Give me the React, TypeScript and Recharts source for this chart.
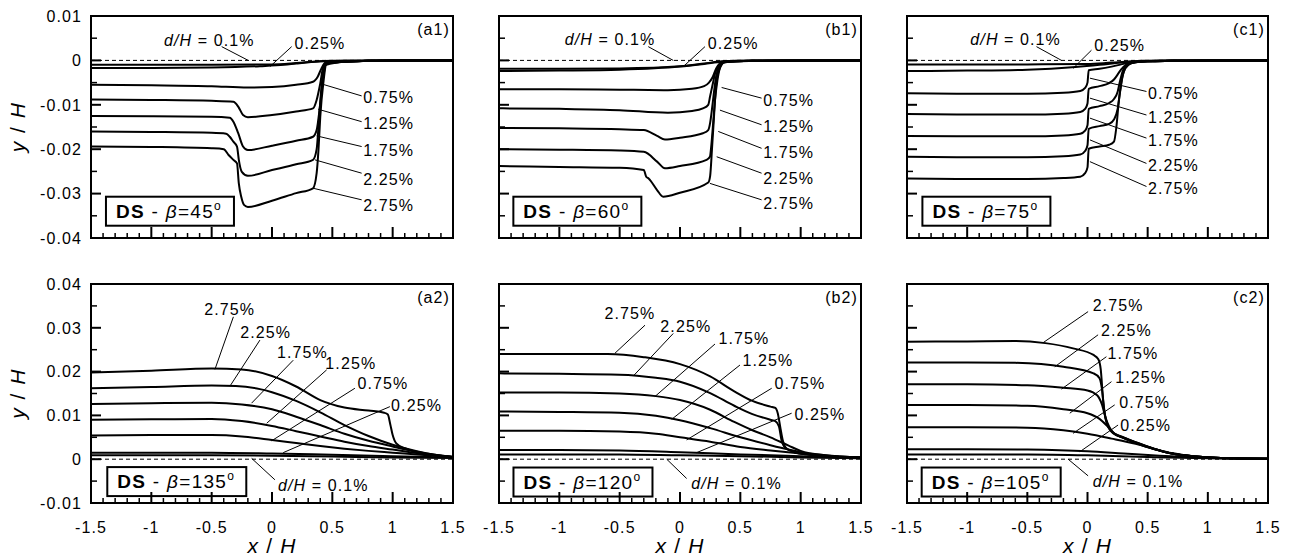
import React from 'react';
import { LineChart, Line, XAxis, YAxis, ReferenceLine, ReferenceDot, ReferenceArea } from 'recharts';

const FONT = '"Liberation Sans", Arial, Helvetica, sans-serif';
const PAGE_W = 1294;
const PAGE_H = 558;

type Pt = [number, number];

// ---------- ticks ----------
const X_TICKS = [-1.5, -1.4, -1.3, -1.2, -1.1, -1, -0.9, -0.8, -0.7, -0.6, -0.5, -0.4, -0.3, -0.2, -0.1, 0, 0.1, 0.2, 0.3, 0.4, 0.5, 0.6, 0.7, 0.8, 0.9, 1, 1.1, 1.2, 1.3, 1.4, 1.5];
const X_LABELED = [-1.5, -1, -0.5, 0, 0.5, 1, 1.5];
const Y_TICKS_TOP = [0.01, 0.005, 0, -0.005, -0.01, -0.015, -0.02, -0.025, -0.03, -0.035, -0.04];
const Y_LABELED_TOP = [0.01, 0, -0.01, -0.02, -0.03, -0.04];
const Y_TICKS_BOTTOM = [0.04, 0.035, 0.03, 0.025, 0.02, 0.015, 0.01, 0.005, 0, -0.005, -0.01];
const Y_LABELED_BOTTOM = [0.04, 0.03, 0.02, 0.01, 0, -0.01];

// ---------- (a1) DS beta=45 ----------
const A1_D010: Pt[] = [[-1.5, -0.001], [-1, -0.001], [-0.5, -0.001], [0, -0.0009], [0.2, -0.0006], [0.4, -0.0002], [0.6, -0.0001], [1, 0], [1.5, 0]];
const A1_D025: Pt[] = [[-1.5, -0.0017], [-1, -0.0017], [-0.5, -0.0016], [-0.1, -0.0013], [0.1, -0.001], [0.2, -0.0007], [0.35, -0.0003], [0.5, -0.0001], [1, 0], [1.5, 0]];
const A1_D075: Pt[] = [[-1.5, -0.0055], [-1, -0.0056], [-0.5, -0.0058], [-0.2, -0.0061], [0, -0.006], [0.2, -0.0055], [0.34, -0.0048], [0.38, -0.0036], [0.41, -0.0018], [0.44, -0.0006], [0.6, -0.0003], [0.8, -0.0001], [1, 0], [1.5, 0]];
const A1_D125: Pt[] = [[-1.5, -0.0088], [-1, -0.0089], [-0.5, -0.0091], [-0.32, -0.0093], [-0.28, -0.0104], [-0.24, -0.0123], [-0.2, -0.0128], [0, -0.0123], [0.2, -0.0115], [0.34, -0.0108], [0.37, -0.0089], [0.4, -0.0052], [0.425, -0.0014], [0.45, -0.0005], [0.6, -0.0003], [0.8, -0.0001], [1, 0], [1.5, 0]];
const A1_D175: Pt[] = [[-1.5, -0.0125], [-1, -0.0126], [-0.5, -0.0127], [-0.35, -0.0129], [-0.32, -0.0138], [-0.28, -0.0164], [-0.24, -0.0194], [-0.2, -0.0202], [0, -0.0192], [0.2, -0.0181], [0.34, -0.0172], [0.37, -0.0157], [0.397, -0.0104], [0.425, -0.0037], [0.45, -0.0007], [0.6, -0.0003], [0.8, -0.0001], [1, 0], [1.5, 0]];
const A1_D225: Pt[] = [[-1.5, -0.016], [-1, -0.0161], [-0.5, -0.0163], [-0.38, -0.0165], [-0.35, -0.0172], [-0.32, -0.0183], [-0.29, -0.0194], [-0.275, -0.0224], [-0.25, -0.0251], [-0.2, -0.026], [0, -0.0247], [0.2, -0.0234], [0.34, -0.0224], [0.37, -0.02], [0.39, -0.013], [0.41, -0.006], [0.44, -0.0012], [0.47, -0.0005], [0.6, -0.0003], [0.8, -0.0001], [1, 0], [1.5, 0]];
const A1_D275: Pt[] = [[-1.5, -0.0194], [-1, -0.0195], [-0.5, -0.0198], [-0.4, -0.02], [-0.36, -0.0213], [-0.32, -0.0224], [-0.29, -0.0232], [-0.275, -0.0277], [-0.255, -0.0307], [-0.23, -0.0326], [-0.2, -0.033], [0, -0.0316], [0.2, -0.0299], [0.34, -0.0288], [0.37, -0.0254], [0.385, -0.0202], [0.4, -0.0127], [0.425, -0.0052], [0.45, -0.001], [0.6, -0.0003], [0.8, -0.0001], [1, 0], [1.5, 0]];

// ---------- (b1) DS beta=60 ----------
const B1_D010: Pt[] = [[-1.5, -0.0019], [-1, -0.0019], [-0.5, -0.0018], [0, -0.0013], [0.2, -0.0007], [0.35, -0.0002], [0.5, -0.0001], [1, 0], [1.5, 0]];
const B1_D025: Pt[] = [[-1.5, -0.0024], [-1, -0.0023], [-0.5, -0.0021], [0, -0.0014], [0.2, -0.0008], [0.35, -0.0003], [0.5, -0.0001], [1, 0], [1.5, 0]];
const B1_D075: Pt[] = [[-1.5, -0.0065], [-1, -0.0065], [-0.5, -0.0066], [-0.1, -0.0067], [0.1, -0.0064], [0.2, -0.0058], [0.24, -0.005], [0.27, -0.0038], [0.3, -0.0018], [0.33, -0.0007], [0.36, -0.0003], [0.6, -0.0001], [1, 0], [1.5, 0]];
const B1_D125: Pt[] = [[-1.5, -0.0108], [-1, -0.0109], [-0.5, -0.0112], [-0.1, -0.0118], [0.1, -0.0114], [0.19, -0.0108], [0.234, -0.01], [0.25, -0.008], [0.27, -0.0055], [0.29, -0.003], [0.32, -0.0012], [0.35, -0.0004], [0.6, -0.0001], [1, 0], [1.5, 0]];
const B1_D175: Pt[] = [[-1.5, -0.0152], [-1, -0.0153], [-0.5, -0.0155], [-0.3, -0.0157], [-0.19, -0.017], [-0.125, -0.0178], [0, -0.0174], [0.19, -0.0164], [0.234, -0.0157], [0.25, -0.014], [0.265, -0.011], [0.28, -0.0075], [0.3, -0.0035], [0.33, -0.0012], [0.36, -0.0004], [0.6, -0.0001], [1, 0], [1.5, 0]];
const B1_D225: Pt[] = [[-1.5, -0.02], [-1, -0.0201], [-0.5, -0.0203], [-0.3, -0.0206], [-0.19, -0.0228], [-0.125, -0.0243], [0, -0.0238], [0.22, -0.0224], [0.248, -0.0217], [0.26, -0.019], [0.275, -0.014], [0.29, -0.009], [0.31, -0.0045], [0.33, -0.0018], [0.36, -0.0005], [0.6, -0.0001], [1, 0], [1.5, 0]];
const B1_D275: Pt[] = [[-1.5, -0.0238], [-1, -0.024], [-0.5, -0.0242], [-0.3, -0.0247], [-0.28, -0.0262], [-0.26, -0.0266], [-0.19, -0.0292], [-0.14, -0.0307], [0, -0.0298], [0.234, -0.0275], [0.25, -0.026], [0.265, -0.02], [0.28, -0.0135], [0.295, -0.007], [0.31, -0.0035], [0.34, -0.0012], [0.37, -0.0004], [0.6, -0.0001], [1, 0], [1.5, 0]];

// ---------- (c1) DS beta=75 ----------
const C1_D010: Pt[] = [[-1.5, -0.0009], [-1, -0.0009], [-0.5, -0.0009], [0, -0.0008], [0.2, -0.0005], [0.4, -0.0002], [0.6, -0.0001], [1, 0], [1.5, 0]];
const C1_D025: Pt[] = [[-1.5, -0.0024], [-1, -0.0023], [-0.5, -0.0021], [-0.1, -0.0015], [0.1, -0.001], [0.3, -0.0004], [0.45, -0.0001], [0.7, 0], [1.5, 0]];
const C1_D075: Pt[] = [[-1.5, -0.0074], [-1, -0.0075], [-0.5, -0.0075], [-0.2, -0.0073], [-0.06, -0.0069], [-0.02, -0.0062], [0, -0.005], [0.01, -0.0022], [0.1, -0.0019], [0.2, -0.0014], [0.28, -0.0009], [0.35, -0.0005], [0.5, -0.0002], [0.7, -0.0001], [1, 0], [1.5, 0]];
const C1_D125: Pt[] = [[-1.5, -0.0121], [-1, -0.0122], [-0.5, -0.0122], [-0.2, -0.012], [-0.06, -0.0116], [-0.02, -0.0109], [0, -0.0097], [0.01, -0.0064], [0.1, -0.0058], [0.18, -0.0051], [0.22, -0.0043], [0.25, -0.0032], [0.28, -0.002], [0.32, -0.001], [0.38, -0.0004], [0.5, -0.0002], [0.7, -0.0001], [1, 0], [1.5, 0]];
const C1_D175: Pt[] = [[-1.5, -0.017], [-1, -0.0171], [-0.5, -0.0171], [-0.2, -0.0169], [-0.06, -0.0165], [-0.02, -0.0158], [0, -0.0146], [0.01, -0.0109], [0.1, -0.0103], [0.18, -0.0096], [0.22, -0.0087], [0.25, -0.0071], [0.27, -0.0047], [0.29, -0.0026], [0.32, -0.0012], [0.36, -0.0005], [0.5, -0.0002], [0.7, -0.0001], [1, 0], [1.5, 0]];
const C1_D225: Pt[] = [[-1.5, -0.0217], [-1, -0.0218], [-0.5, -0.0218], [-0.2, -0.0216], [-0.06, -0.0212], [-0.02, -0.0204], [0, -0.0191], [0.01, -0.0154], [0.1, -0.0148], [0.18, -0.0143], [0.22, -0.0133], [0.25, -0.011], [0.27, -0.0072], [0.29, -0.0037], [0.31, -0.0019], [0.35, -0.0007], [0.5, -0.0002], [0.7, -0.0001], [1, 0], [1.5, 0]];
const C1_D275: Pt[] = [[-1.5, -0.0266], [-1, -0.0267], [-0.5, -0.0267], [-0.2, -0.0265], [-0.06, -0.0262], [-0.02, -0.0254], [0, -0.0241], [0.01, -0.0199], [0.1, -0.0194], [0.18, -0.019], [0.22, -0.0183], [0.24, -0.015], [0.26, -0.0092], [0.28, -0.0052], [0.3, -0.0027], [0.34, -0.001], [0.4, -0.0004], [0.6, -0.0001], [1, 0], [1.5, 0]];

// ---------- (a2) DS beta=135 ----------
const A2_D010: Pt[] = [[-1.5, 0.0009], [-1, 0.0009], [-0.5, 0.0009], [0, 0.0008], [0.5, 0.0006], [1, 0.0004], [1.5, 0.0003]];
const A2_D025: Pt[] = [[-1.5, 0.0015], [-1, 0.0015], [-0.5, 0.0015], [0, 0.0013], [0.5, 0.001], [1, 0.0007], [1.5, 0.0004]];
const A2_D075: Pt[] = [[-1.5, 0.0054], [-1, 0.0055], [-0.5, 0.0055], [-0.25, 0.0052], [0, 0.0044], [0.2, 0.0037], [0.4, 0.003], [0.6, 0.0024], [0.8, 0.0019], [1, 0.0015], [1.2, 0.0011], [1.5, 0.0005]];
const A2_D125: Pt[] = [[-1.5, 0.009], [-1, 0.0091], [-0.5, 0.0092], [-0.25, 0.0087], [0, 0.0076], [0.2, 0.0064], [0.4, 0.0052], [0.6, 0.004], [0.8, 0.003], [1, 0.0022], [1.2, 0.0014], [1.35, 0.0009], [1.5, 0.0005]];
const A2_D175: Pt[] = [[-1.5, 0.0126], [-1, 0.0128], [-0.5, 0.0129], [-0.25, 0.0125], [0, 0.0114], [0.2, 0.0097], [0.4, 0.0078], [0.6, 0.0058], [0.8, 0.0042], [1, 0.0029], [1.2, 0.0017], [1.35, 0.001], [1.5, 0.0005]];
const A2_D225: Pt[] = [[-1.5, 0.0162], [-1, 0.0165], [-0.5, 0.0168], [-0.3, 0.0167], [-0.1, 0.016], [0, 0.0153], [0.2, 0.0133], [0.4, 0.0107], [0.6, 0.0078], [0.8, 0.0053], [1, 0.0033], [1.2, 0.0018], [1.35, 0.001], [1.5, 0.0005]];
const A2_D275: Pt[] = [[-1.5, 0.0198], [-1, 0.0202], [-0.5, 0.0207], [-0.25, 0.0205], [0, 0.019], [0.2, 0.0166], [0.4, 0.0135], [0.6, 0.0118], [0.8, 0.0111], [0.93, 0.0106], [0.96, 0.0102], [0.98, 0.008], [1, 0.0055], [1.03, 0.0036], [1.1, 0.0025], [1.2, 0.0016], [1.35, 0.0009], [1.5, 0.0005]];

// ---------- (b2) DS beta=120 ----------
const B2_D010: Pt[] = [[-1.5, 0.0011], [-1, 0.0011], [-0.5, 0.0011], [0, 0.0009], [0.5, 0.0007], [1, 0.0004], [1.5, 0.0002]];
const B2_D025: Pt[] = [[-1.5, 0.0021], [-1, 0.0021], [-0.5, 0.002], [0, 0.0016], [0.5, 0.0011], [1, 0.0007], [1.5, 0.0003]];
const B2_D075: Pt[] = [[-1.5, 0.0065], [-1, 0.0065], [-0.5, 0.0063], [-0.2, 0.0058], [0, 0.005], [0.25, 0.004], [0.5, 0.0028], [0.75, 0.002], [1, 0.0013], [1.2, 0.0008], [1.5, 0.0004]];
const B2_D125: Pt[] = [[-1.5, 0.0109], [-1, 0.0108], [-0.5, 0.0106], [-0.2, 0.0099], [0, 0.0089], [0.25, 0.0071], [0.5, 0.005], [0.75, 0.0032], [0.9, 0.0022], [1, 0.0016], [1.2, 0.0009], [1.5, 0.0004]];
const B2_D175: Pt[] = [[-1.5, 0.0152], [-1, 0.0152], [-0.5, 0.015], [-0.2, 0.0144], [0, 0.0135], [0.25, 0.0113], [0.45, 0.0085], [0.6, 0.0066], [0.75, 0.005], [0.9, 0.0031], [1, 0.0019], [1.2, 0.0009], [1.5, 0.0004]];
const B2_D225: Pt[] = [[-1.5, 0.0196], [-1, 0.0195], [-0.5, 0.0193], [-0.2, 0.0186], [0, 0.0177], [0.25, 0.0151], [0.45, 0.0122], [0.6, 0.0103], [0.75, 0.009], [0.79, 0.0087], [0.82, 0.0075], [0.84, 0.0045], [0.87, 0.0027], [0.95, 0.0016], [1.05, 0.0011], [1.2, 0.0007], [1.5, 0.0004]];
const B2_D275: Pt[] = [[-1.5, 0.024], [-1, 0.024], [-0.6, 0.024], [-0.3, 0.0233], [0, 0.0217], [0.25, 0.0189], [0.45, 0.0155], [0.6, 0.0133], [0.75, 0.012], [0.79, 0.0117], [0.81, 0.0105], [0.83, 0.0075], [0.85, 0.0045], [0.88, 0.0025], [0.95, 0.0016], [1.05, 0.0011], [1.2, 0.0007], [1.5, 0.0004]];

// ---------- (c2) DS beta=105 ----------
const C2_D010: Pt[] = [[-1.5, 0.0011], [-1, 0.0011], [-0.5, 0.0011], [0, 0.0009], [0.5, 0.0005], [1, 0.0002], [1.5, 0.0001]];
const C2_D025: Pt[] = [[-1.5, 0.0023], [-1, 0.0023], [-0.5, 0.0022], [0, 0.0018], [0.3, 0.0013], [0.6, 0.0008], [0.9, 0.0004], [1.2, 0.0002], [1.5, 0.0001]];
const C2_D075: Pt[] = [[-1.5, 0.0073], [-1, 0.0073], [-0.5, 0.0072], [-0.2, 0.0066], [0, 0.0058], [0.2, 0.0047], [0.4, 0.0035], [0.55, 0.0024], [0.7, 0.0014], [0.9, 0.0006], [1.2, 0.0002], [1.5, 0.0001]];
const C2_D125: Pt[] = [[-1.5, 0.0124], [-1, 0.0124], [-0.5, 0.0122], [-0.2, 0.0114], [0, 0.0105], [0.1, 0.0092], [0.16, 0.0077], [0.22, 0.0059], [0.3, 0.0048], [0.4, 0.0037], [0.55, 0.0023], [0.7, 0.0013], [0.9, 0.0006], [1.2, 0.0002], [1.5, 0.0001]];
const C2_D175: Pt[] = [[-1.5, 0.0171], [-1, 0.0171], [-0.5, 0.0169], [-0.2, 0.0163], [0, 0.0157], [0.08, 0.0146], [0.12, 0.0125], [0.15, 0.0095], [0.18, 0.0074], [0.22, 0.0059], [0.3, 0.0049], [0.4, 0.0038], [0.55, 0.0024], [0.7, 0.0013], [0.9, 0.0006], [1.2, 0.0002], [1.5, 0.0001]];
const C2_D225: Pt[] = [[-1.5, 0.0221], [-1, 0.0221], [-0.6, 0.022], [-0.2, 0.0211], [0.05, 0.0196], [0.1, 0.0185], [0.12, 0.016], [0.14, 0.0108], [0.17, 0.0076], [0.21, 0.006], [0.3, 0.0049], [0.4, 0.0038], [0.55, 0.0024], [0.7, 0.0013], [0.9, 0.0006], [1.2, 0.0002], [1.5, 0.0001]];
const C2_D275: Pt[] = [[-1.5, 0.0268], [-1, 0.0269], [-0.6, 0.027], [-0.35, 0.0265], [-0.12, 0.0253], [0.05, 0.0238], [0.09, 0.0228], [0.11, 0.0205], [0.13, 0.0135], [0.16, 0.0082], [0.2, 0.0063], [0.3, 0.005], [0.4, 0.0039], [0.55, 0.0024], [0.7, 0.0013], [0.9, 0.0006], [1.2, 0.0002], [1.5, 0.0001]];

// ---------- annotations (data coordinates) ----------
type Note = { t: string; x: number; y: number; a: 'start' | 'middle'; from: Pt; to: Pt };

const A1_NOTES: Note[] = [
  { t: 'd/H = 0.1%', x: -0.52, y: 0.0046, a: 'middle', from: [-0.417, 0.0031], to: [-0.197, 0] },
  { t: '0.25%', x: 0.397, y: 0.0038, a: 'middle', from: [0.163, 0.0031], to: [-0.017, -0.0014] },
  { t: '0.75%', x: 0.756, y: -0.0082, a: 'start', from: [0.743, -0.008], to: [0.411, -0.0053] },
  { t: '1.25%', x: 0.756, y: -0.0142, a: 'start', from: [0.743, -0.0138], to: [0.383, -0.011] },
  { t: '1.75%', x: 0.756, y: -0.0202, a: 'start', from: [0.743, -0.0194], to: [0.37, -0.017] },
  { t: '2.25%', x: 0.756, y: -0.0267, a: 'start', from: [0.743, -0.0254], to: [0.356, -0.0224] },
  { t: '2.75%', x: 0.756, y: -0.0326, a: 'start', from: [0.743, -0.0314], to: [0.342, -0.0288] },
];
const B1_NOTES: Note[] = [
  { t: 'd/H = 0.1%', x: -0.58, y: 0.0048, a: 'middle', from: [-0.263, 0.0031], to: [-0.056, 0] },
  { t: '0.25%', x: 0.441, y: 0.0039, a: 'middle', from: [0.207, 0.0031], to: [0.027, -0.0014] },
  { t: '0.75%', x: 0.69, y: -0.0089, a: 'start', from: [0.676, -0.0085], to: [0.345, -0.0061] },
  { t: '1.25%', x: 0.69, y: -0.0149, a: 'start', from: [0.676, -0.0145], to: [0.331, -0.0112] },
  { t: '1.75%', x: 0.69, y: -0.0206, a: 'start', from: [0.676, -0.0198], to: [0.317, -0.016] },
  { t: '2.25%', x: 0.69, y: -0.0266, a: 'start', from: [0.676, -0.0254], to: [0.304, -0.0217] },
  { t: '2.75%', x: 0.69, y: -0.0322, a: 'start', from: [0.676, -0.0314], to: [0.248, -0.0277] },
];
const C1_NOTES: Note[] = [
  { t: 'd/H = 0.1%', x: -0.597, y: 0.0047, a: 'middle', from: [-0.424, 0.0031], to: [-0.216, 0] },
  { t: '0.25%', x: 0.268, y: 0.0035, a: 'middle', from: [0.033, 0.0023], to: [-0.12, -0.0018] },
  { t: '0.75%', x: 0.503, y: -0.0074, a: 'start', from: [0.49, -0.007], to: [0.02, -0.004] },
  { t: '1.25%', x: 0.503, y: -0.0127, a: 'start', from: [0.49, -0.0123], to: [0.02, -0.0085] },
  { t: '1.75%', x: 0.503, y: -0.0179, a: 'start', from: [0.49, -0.0175], to: [0.02, -0.013] },
  { t: '2.25%', x: 0.503, y: -0.0236, a: 'start', from: [0.49, -0.0232], to: [0.02, -0.0179] },
  { t: '2.75%', x: 0.503, y: -0.0288, a: 'start', from: [0.49, -0.0284], to: [0.02, -0.0228] },
];
const A2_NOTES: Note[] = [
  { t: '2.75%', x: -0.35, y: 0.0342, a: 'middle', from: [-0.32, 0.0325], to: [-0.473, 0.0205] },
  { t: '2.25%', x: -0.052, y: 0.0291, a: 'middle', from: [-0.1, 0.0272], to: [-0.348, 0.0167] },
  { t: '1.75%', x: 0.252, y: 0.0245, a: 'middle', from: [0.176, 0.0226], to: [-0.169, 0.0128] },
  { t: '1.25%', x: 0.653, y: 0.0219, a: 'middle', from: [0.453, 0.0204], to: [-0.044, 0.0082] },
  { t: '0.75%', x: 0.919, y: 0.0173, a: 'middle', from: [0.687, 0.0162], to: [-0.003, 0.0042] },
  { t: '0.25%', x: 1.198, y: 0.0124, a: 'middle', from: [0.977, 0.012], to: [0.093, 0.0015] },
  { t: 'd/H = 0.1%', x: 0.425, y: -0.0059, a: 'middle', from: [0.024, -0.0047], to: [-0.169, 0.0002] },
];
const B2_NOTES: Note[] = [
  { t: '2.75%', x: -0.415, y: 0.0334, a: 'middle', from: [-0.29, 0.0306], to: [-0.539, 0.0242] },
  { t: '2.25%', x: 0.048, y: 0.0303, a: 'middle', from: [-0.056, 0.0287], to: [-0.387, 0.019] },
  { t: '1.75%', x: 0.53, y: 0.0276, a: 'middle', from: [0.29, 0.0263], to: [-0.208, 0.0143] },
  { t: '1.25%', x: 0.729, y: 0.0226, a: 'middle', from: [0.497, 0.0215], to: [-0.069, 0.0091] },
  { t: '0.75%', x: 0.994, y: 0.0173, a: 'middle', from: [0.76, 0.0162], to: [0.055, 0.0044] },
  { t: '0.25%', x: 1.16, y: 0.0102, a: 'middle', from: [0.925, 0.0105], to: [0.138, 0.0015] },
  { t: 'd/H = 0.1%', x: 0.469, y: -0.0055, a: 'middle', from: [0.055, -0.0044], to: [-0.11, 0] },
];
const C2_NOTES: Note[] = [
  { t: '2.75%', x: 0.254, y: 0.0352, a: 'middle', from: [0.005, 0.0337], to: [-0.369, 0.0266] },
  { t: '2.25%', x: 0.323, y: 0.0295, a: 'middle', from: [0.088, 0.0284], to: [-0.272, 0.0211] },
  { t: '1.75%', x: 0.378, y: 0.0242, a: 'middle', from: [0.157, 0.0234], to: [-0.216, 0.016] },
  { t: '1.25%', x: 0.442, y: 0.0188, a: 'middle', from: [0.199, 0.0177], to: [-0.147, 0.0105] },
  { t: '0.75%', x: 0.475, y: 0.0131, a: 'middle', from: [0.226, 0.0124], to: [-0.12, 0.0059] },
  { t: '0.25%', x: 0.483, y: 0.0078, a: 'middle', from: [0.254, 0.0078], to: [-0.064, 0.0017] },
  { t: 'd/H = 0.1%', x: 0.42, y: -0.0051, a: 'middle', from: [0.005, -0.0038], to: [-0.161, 0] },
];

// ---------- layout ----------
const COL_LEFT = [91, 499, 907];
const COL_RIGHT = [453, 861, 1268];
const ROW_TOP = [16, 284];
const ROW_BOTTOM = [238, 503];

type PanelCfg = {
  id: string; col: number; row: number; tag: string; beta: string;
  curves: Pt[][]; notes: Note[]; box: Pt;
};

const PANELS: PanelCfg[] = [
  { id: 'a1', col: 0, row: 0, tag: '(a1)', beta: '45', curves: [A1_D010, A1_D025, A1_D075, A1_D125, A1_D175, A1_D225, A1_D275], notes: A1_NOTES, box: [-1.376, -0.0307] },
  { id: 'b1', col: 1, row: 0, tag: '(b1)', beta: '60', curves: [B1_D010, B1_D025, B1_D075, B1_D125, B1_D175, B1_D225, B1_D275], notes: B1_NOTES, box: [-1.381, -0.0307] },
  { id: 'c1', col: 2, row: 0, tag: '(c1)', beta: '75', curves: [C1_D010, C1_D025, C1_D075, C1_D125, C1_D175, C1_D225, C1_D275], notes: C1_NOTES, box: [-1.372, -0.0307] },
  { id: 'a2', col: 0, row: 1, tag: '(a2)', beta: '135', curves: [A2_D010, A2_D025, A2_D075, A2_D125, A2_D175, A2_D225, A2_D275], notes: A2_NOTES, box: [-1.365, -0.0018] },
  { id: 'b2', col: 1, row: 1, tag: '(b2)', beta: '120', curves: [B2_D010, B2_D025, B2_D075, B2_D125, B2_D175, B2_D225, B2_D275], notes: B2_NOTES, box: [-1.38, -0.0019] },
  { id: 'c2', col: 2, row: 1, tag: '(c2)', beta: '105', curves: [C2_D010, C2_D025, C2_D075, C2_D125, C2_D175, C2_D225, C2_D275], notes: C2_NOTES, box: [-1.378, -0.0019] },
];

const fmt = (v: number) => (Math.abs(v) < 1e-12 ? '0' : String(v));
const isIn = (arr: number[], v: number) => arr.some((m) => Math.abs(m - v) < 1e-9);

const TXT = 16;
const SPACING = 1.1;

function XTick(props: any) {
  const { x, y, payload, showLabel } = props;
  const v = payload.value;
  const major = isIn(X_LABELED, v);
  return (
    <g>
      <line x1={x} x2={x} y1={y} y2={y - (major ? 11 : 5)} stroke="#000" strokeWidth={major ? 2 : 1.5} />
      {showLabel && major ? (
        <text x={x} y={y + 30} textAnchor="middle" fontSize={TXT} fontFamily={FONT} letterSpacing={SPACING} fill="#000">
          {fmt(v)}
        </text>
      ) : null}
    </g>
  );
}

function YTick(props: any) {
  const { x, y, payload, showLabel, labeled } = props;
  const v = payload.value;
  const major = isIn(labeled, v);
  return (
    <g>
      <line x1={x} x2={x + (major ? 10 : 6)} y1={y} y2={y} stroke="#000" strokeWidth={major ? 2 : 1.5} />
      {showLabel && major ? (
        <text x={x - 9} y={y} dy="0.36em" textAnchor="end" fontSize={TXT} fontFamily={FONT} letterSpacing={SPACING} fill="#000">
          {fmt(v)}
        </text>
      ) : null}
    </g>
  );
}

function XTitle(props: any) {
  const vb = props.viewBox || {};
  const cx = vb.x + vb.width / 2;
  return (
    <text x={cx} y={vb.y + 50} textAnchor="middle" fontSize={21} fontFamily={FONT} letterSpacing={1.2} fill="#000" style={{ whiteSpace: 'pre' }}>
      <tspan fontStyle="italic">x</tspan> / <tspan fontStyle="italic">H</tspan>
    </text>
  );
}

function YTitle(props: any) {
  const vb = props.viewBox || {};
  const px = vb.x + vb.width - 66;
  const cy = vb.y + vb.height / 2;
  return (
    <text x={px} y={cy} transform={`rotate(-90, ${px}, ${cy})`} textAnchor="middle" fontSize={21} fontFamily={FONT} letterSpacing={1.5} fill="#000" style={{ whiteSpace: 'pre' }}>
      <tspan fontStyle="italic">y</tspan> / <tspan fontStyle="italic">H</tspan>
    </text>
  );
}

function NoteText(props: any) {
  const { viewBox, text, anchor } = props;
  const x = viewBox.x + (viewBox.width || 0) / 2;
  const y = viewBox.y + (viewBox.height || 0) / 2;
  const isD = text.startsWith('d/H');
  return (
    <text x={x} y={y} dy="0.36em" textAnchor={anchor} fontSize={TXT} fontFamily={FONT} letterSpacing={SPACING} fill="#000" style={{ whiteSpace: 'pre' }}>
      {isD ? (
        <>
          <tspan fontStyle="italic">d/H</tspan>
          <tspan>{text.slice(3)}</tspan>
        </>
      ) : (
        text
      )}
    </text>
  );
}

function TagText(props: any) {
  const { viewBox, text } = props;
  return (
    <text x={viewBox.x - 3} y={viewBox.y + 19} textAnchor="end" fontSize={TXT} fontFamily={FONT} letterSpacing={SPACING} fill="#000">
      {text}
    </text>
  );
}

function BoxLabel(props: any) {
  const { viewBox, beta, w } = props;
  const x = viewBox.x;
  const y = viewBox.y;
  return (
    <g>
      <rect x={x} y={y} width={w} height={29} fill="#fff" stroke="#000" strokeWidth={2} />
      <text x={x + 10} y={y + 21} fontSize={19} fontFamily={FONT} letterSpacing={1.3} fill="#000" style={{ whiteSpace: 'pre' }}>
        <tspan fontWeight="bold">DS</tspan>
        <tspan> - </tspan>
        <tspan fontStyle="italic">β</tspan>
        <tspan>={beta}</tspan>
        <tspan fontSize={12} dy={-8}>o</tspan>
      </text>
    </g>
  );
}

function Panel({ cfg }: { cfg: PanelCfg }) {
  const L = COL_LEFT[cfg.col];
  const R = COL_RIGHT[cfg.col];
  const T = ROW_TOP[cfg.row];
  const B = ROW_BOTTOM[cfg.row];
  const yDomain: [number, number] = cfg.row === 0 ? [-0.04, 0.01] : [-0.01, 0.04];
  const yTicks = cfg.row === 0 ? Y_TICKS_TOP : Y_TICKS_BOTTOM;
  const yLabeled = cfg.row === 0 ? Y_LABELED_TOP : Y_LABELED_BOTTOM;
  const showY = cfg.col === 0;
  const showX = cfg.row === 1;
  return (
    <div style={{ position: 'absolute', left: 0, top: 0, width: PAGE_W, height: PAGE_H }}>
      <LineChart
        width={PAGE_W}
        height={PAGE_H}
        margin={{ left: L - 1, top: T, right: PAGE_W - R, bottom: PAGE_H - B - 1 }}
      >
        <XAxis
          dataKey="x"
          type="number"
          domain={[-1.5, 1.5]}
          ticks={X_TICKS}
          interval={0}
          height={1}
          tickSize={0}
          tickMargin={0}
          tickLine={false}
          axisLine={false}
          allowDataOverflow
          tick={<XTick showLabel={showX} />}
          label={showX ? <XTitle /> : undefined}
        />
        <YAxis
          type="number"
          domain={yDomain}
          ticks={yTicks}
          interval={0}
          width={1}
          tickSize={0}
          tickMargin={0}
          tickLine={false}
          axisLine={false}
          allowDataOverflow
          tick={<YTick showLabel={showY} labeled={yLabeled} />}
          label={showY ? <YTitle /> : undefined}
        />
        <ReferenceLine y={0} stroke="#000" strokeWidth={1} strokeDasharray="4 3" ifOverflow="visible" />
        {cfg.curves.map((pts, i) => (
          <Line
            key={`${cfg.id}-c${i}`}
            data={pts.map(([x, y]) => ({ x, y }))}
            dataKey="y"
            type="monotone"
            stroke="#000"
            strokeWidth={2}
            dot={false}
            activeDot={false}
            isAnimationActive={false}
          />
        ))}
        {cfg.notes.map((n, i) => (
          <ReferenceLine
            key={`${cfg.id}-l${i}`}
            segment={[{ x: n.from[0], y: n.from[1] }, { x: n.to[0], y: n.to[1] }]}
            stroke="#000"
            strokeWidth={1}
            ifOverflow="visible"
          />
        ))}
        {cfg.notes.map((n, i) => (
          <ReferenceDot
            key={`${cfg.id}-t${i}`}
            x={n.x}
            y={n.y}
            r={0}
            fill="none"
            stroke="none"
            ifOverflow="visible"
            label={<NoteText text={n.t} anchor={n.a} />}
          />
        ))}
        <ReferenceDot
          x={1.5}
          y={yDomain[1]}
          r={0}
          fill="none"
          stroke="none"
          ifOverflow="visible"
          label={<TagText text={cfg.tag} />}
        />
        <ReferenceDot
          x={cfg.box[0]}
          y={cfg.box[1]}
          r={0}
          fill="none"
          stroke="none"
          ifOverflow="visible"
          label={<BoxLabel beta={cfg.beta} w={cfg.row === 0 ? 128 : 139} />}
        />
        <ReferenceArea
          x1={-1.5}
          x2={1.5}
          y1={yDomain[0]}
          y2={yDomain[1]}
          fill="none"
          fillOpacity={0}
          stroke="#000"
          strokeWidth={2}
          strokeOpacity={1}
          ifOverflow="visible"
        />
      </LineChart>
    </div>
  );
}

export default function App() {
  return (
    <div style={{ position: 'absolute', left: 0, top: 0, width: PAGE_W, height: PAGE_H, background: '#fff', overflow: 'hidden' }}>
      {PANELS.map((p) => (
        <Panel key={p.id} cfg={p} />
      ))}
    </div>
  );
}
